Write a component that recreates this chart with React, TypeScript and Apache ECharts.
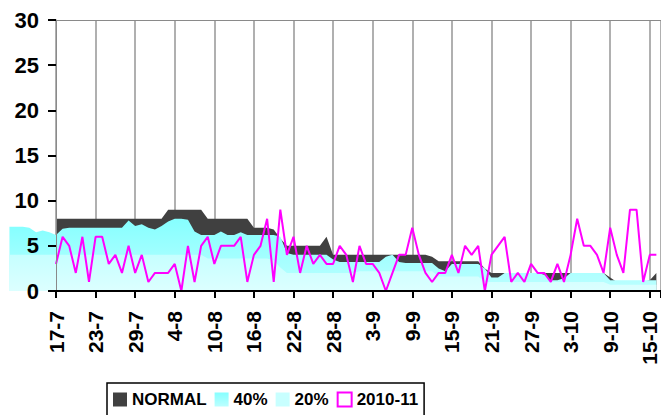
import React, { useEffect, useRef } from "react";
import * as echarts from "echarts";

// Tick labels of the date axis (every 6 days starting 17-7)
const TICK_LABELS = ["17-7", "23-7", "29-7", "4-8", "10-8", "16-8", "22-8", "28-8", "3-9", "9-9", "15-9", "21-9", "27-9", "3-10", "9-10", "15-10"];
const TICK_STEP = 6;

// Daily values, 17-7 .. 16-10 (92 days)
const NORMAL = [
  8, 8, 8, 8, 8, 8, 8, 8, 8, 8,
  8, 8, 8, 8, 8, 8, 8, 9, 9, 9,
  9, 9, 9, 8, 8, 8, 8, 8, 8, 8,
  7, 7, 7, 6.8, 5.8, 5, 5, 5, 5, 5,
  5, 6, 4, 4, 4, 4, 4, 4, 4, 4,
  4, 4, 4, 4, 4, 4, 4, 3.8, 3.3, 3.3,
  3.3, 3.3, 3.3, 3.3, 3.3, 2.5, 2, 2, 2, 2,
  2, 2, 2, 2, 2, 2, 2, 2, 2, 2,
  2, 2, 2, 2, 1.5, 1, 1, 1, 1, 1,
  1.2, 2,
];
const P40 = [
  6.2, 6.9, 7, 7, 7, 7, 7, 7, 7, 7,
  7, 7.8, 7.2, 7.4, 7.0, 6.8, 7.2, 7.7, 8, 8,
  7.9, 6.6, 6.2, 6.2, 6.2, 6.6, 6.2, 6.2, 6.5, 6.2,
  6.2, 6.2, 6.2, 6.2, 6.0, 4.2, 4, 4, 4, 4,
  4, 4, 3.5, 3.2, 3.2, 3.2, 3.2, 3.2, 3.2, 3.2,
  3.8, 4, 3.2, 3.1, 3.1, 3.1, 3.1, 3.1, 2.5, 2.2,
  3, 3, 3, 3, 3, 2.5, 1.5, 1.5, 2, 2,
  2, 2, 2, 2, 1.8, 1.2, 1.2, 1.4, 2, 2,
  2, 2, 2, 2, 1.2, 1.2, 1.2, 1.2, 1.2, 1.2,
  1.2, 1.2,
];
const P20 = [
  4, 4, 4, 4, 4, 4, 4, 4, 4, 4,
  4, 4, 4, 4, 4, 4, 4, 4, 4, 4,
  4, 4, 4, 3.6, 3.6, 3.6, 3.6, 3.6, 3.6, 3.6,
  3.6, 3.6, 3.6, 3.4, 2.6, 2, 2, 2, 2, 2,
  2, 2, 2, 2, 2, 2, 2.2, 2.2, 2.2, 2.2,
  2.2, 2.2, 2.2, 2.2, 2.2, 2.2, 2.2, 2.2, 1.6, 1.6,
  1.6, 1.6, 1.6, 1.6, 1.6, 1, 1, 1, 1, 1,
  1, 1, 1, 1, 1, 1, 1, 1, 1, 1,
  1, 1, 1, 1, 0.7, 0.7, 0.7, 0.7, 0.7, 0.7,
  0.7, 0.7,
];
const Y2010 = [
  3, 6, 5, 2, 6, 1, 6, 6, 3, 4,
  2, 5, 2, 4, 1, 2, 2, 2, 3, 0,
  5, 1, 5, 6, 3, 5, 5, 5, 6, 1,
  4, 5, 8, 1, 9, 4, 6, 2, 5, 3,
  4, 3, 3, 5, 4, 1, 5, 3, 3, 2,
  0, 2, 4, 4, 7, 4, 2, 1, 2, 2,
  4, 2, 5, 4, 5, 0, 4, 5, 6, 1,
  2, 1, 3, 2, 2, 1, 3, 1, 4, 8,
  5, 5, 4, 2, 7, 4, 2, 9, 9, 1,
  4, 4,
];
// The 7 days before 17-7 (10-7 .. 16-7), drawn left of the value axis
const P40_PRE = [7.1, 7.1, 7.1, 7.0, 6.5, 6.7, 6.5];
const P20_PRE = [4, 4, 4, 4, 4, 4, 4];

const FONT = "'Liberation Sans', Arial, sans-serif";
const PX_PER_DAY = 6.652;
const PLOT_LEFT = 56;
const PLOT_TOP = 20;
const PLOT_H = 271;
const PLOT_W = 610;

const grad40 = () =>
  new echarts.graphic.LinearGradient(0, 0, 0, 1, [
    { offset: 0, color: "#86ffff" },
    { offset: 1, color: "#bcffff" },
  ]);
const grad20 = () =>
  new echarts.graphic.LinearGradient(0, 0, 0, 1, [
    { offset: 0, color: "#c6ffff" },
    { offset: 1, color: "#dcffff" },
  ]);

export default function App() {
  const ref = useRef<HTMLDivElement>(null);
  useEffect(() => {
    if (!ref.current) return;
    const chart = echarts.init(ref.current, undefined, { renderer: "svg" });
    const toXY = (arr: number[], offset = 0) => arr.map((v, i) => [i + offset, v]);
    const pre = P40_PRE.length;
    const areaBase = {
      type: "line",
      symbol: "none",
      lineStyle: { width: 0, opacity: 0 },
      silent: true,
    };
    chart.setOption({
      animation: false,
      backgroundColor: "#ffffff",
      grid: [
        { left: PLOT_LEFT, top: PLOT_TOP, width: PLOT_W, height: PLOT_H },
        { left: PLOT_LEFT - pre * PX_PER_DAY, top: PLOT_TOP, width: pre * PX_PER_DAY, height: PLOT_H },
      ],
      xAxis: [
        {
          type: "value",
          gridIndex: 0,
          position: "bottom",
          min: 0,
          max: PLOT_W / PX_PER_DAY,
          interval: TICK_STEP,
          z: 5,
          axisLine: { show: true, onZero: true, lineStyle: { color: "#000", width: 2 } },
          axisTick: { show: true, length: 7, lineStyle: { color: "#000", width: 2 } },
          axisLabel: {
            rotate: 90,
            margin: 20,
            color: "#000",
            fontFamily: FONT,
            fontWeight: "bold",
            fontSize: 21,
            formatter: (v: number) => {
              const k = v / TICK_STEP;
              return Number.isInteger(k) && TICK_LABELS[k] ? TICK_LABELS[k] : "";
            },
          },
          splitLine: { show: false },
        },
        {
          type: "value",
          gridIndex: 0,
          position: "top",
          min: 0,
          max: PLOT_W / PX_PER_DAY,
          interval: TICK_STEP,
          axisLine: { show: true, onZero: false, lineStyle: { color: "#8a8a8a", width: 1 } },
          axisTick: { show: false },
          axisLabel: { show: false },
          splitLine: { show: true, lineStyle: { color: "#969696", width: 1.5 } },
        },
        { type: "value", gridIndex: 1, min: -pre, max: 0, show: false },
      ],
      yAxis: [
        {
          type: "value",
          gridIndex: 0,
          min: 0,
          max: 30,
          interval: 5,
          z: 5,
          axisLine: { show: true, lineStyle: { color: "#8a8a8a", width: 1 } },
          axisTick: { show: true, length: 8, lineStyle: { color: "#000", width: 2 } },
          axisLabel: {
            color: "#000",
            fontFamily: FONT,
            fontWeight: "bold",
            fontSize: 22,
            margin: 17,
          },
          splitLine: { show: false },
        },
        { type: "value", gridIndex: 1, min: 0, max: 30, show: false },
      ],
      legend: {
        left: 107,
        top: 383,
        padding: [8, 6, 14, 6],
        borderColor: "#000",
        borderWidth: 1.5,
        itemWidth: 14,
        itemHeight: 14,
        itemGap: 8,
        selectedMode: false,
        textStyle: { color: "#000", fontFamily: FONT, fontWeight: "bold", fontSize: 17 },
        data: [
          { name: "NORMAL", icon: "rect", itemStyle: { color: "#404040", borderWidth: 0 } },
          { name: "40%", icon: "rect", itemStyle: { color: grad40(), borderWidth: 0 } },
          { name: "20%", icon: "rect", itemStyle: { color: "#c8ffff", borderWidth: 0 } },
          {
            name: "2010-11",
            icon: "rect",
            itemStyle: { color: "#ffffff", borderColor: "#ff00ff", borderWidth: 2 },
          },
        ],
      },
      series: [
        {
          ...areaBase,
          name: "NORMAL",
          xAxisIndex: 0,
          yAxisIndex: 0,
          itemStyle: { color: "#404040" },
          areaStyle: { color: "#404040", opacity: 1 },
          data: toXY(NORMAL),
        },
        {
          ...areaBase,
          name: "40%",
          xAxisIndex: 0,
          yAxisIndex: 0,
          itemStyle: { color: "#86ffff" },
          areaStyle: { color: grad40(), opacity: 1 },
          data: toXY(P40),
        },
        {
          ...areaBase,
          name: "20%",
          xAxisIndex: 0,
          yAxisIndex: 0,
          itemStyle: { color: "#c8ffff" },
          areaStyle: { color: grad20(), opacity: 1 },
          data: toXY(P20),
        },
        {
          ...areaBase,
          name: "40%",
          xAxisIndex: 2,
          yAxisIndex: 1,
          itemStyle: { color: "#86ffff" },
          areaStyle: { color: grad40(), opacity: 1 },
          data: toXY(P40_PRE, -pre).concat([[0, P40[0]]]),
        },
        {
          ...areaBase,
          name: "20%",
          xAxisIndex: 2,
          yAxisIndex: 1,
          itemStyle: { color: "#c8ffff" },
          areaStyle: { color: grad20(), opacity: 1 },
          data: toXY(P20_PRE, -pre).concat([[0, P20[0]]]),
        },
        {
          type: "line",
          name: "2010-11",
          xAxisIndex: 0,
          yAxisIndex: 0,
          symbol: "none",
          itemStyle: { color: "#ff00ff" },
          lineStyle: { color: "#ff00ff", width: 2 },
          data: toXY(Y2010),
          z: 4,
        },
      ],
    });
    return () => chart.dispose();
  }, []);
  return (
    <div
      ref={ref}
      style={{ position: "absolute", left: 0, top: 0, width: 661, height: 415, background: "#fff" }}
    />
  );
}
